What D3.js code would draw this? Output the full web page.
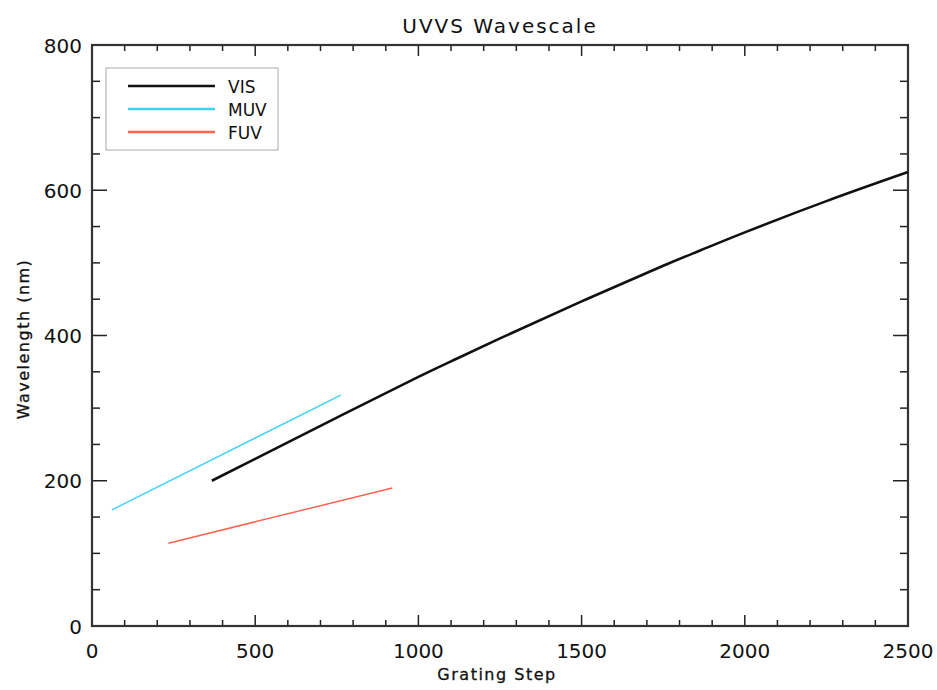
<!DOCTYPE html>
<html><head><meta charset="utf-8">
<script src="https://cdn.jsdelivr.net/npm/d3@7"></script>
<style>body{margin:0;background:#fff}svg{display:block}text{font-family:"DejaVu Sans",sans-serif;fill:#111}</style>
</head><body><svg id="c" width="937" height="690"></svg>
<script>
const visSteps = [367, 500, 750, 1000, 1117, 1250, 1500, 1750, 1863, 2000, 2250, 2500];
const visWave  = [200, 230, 287, 343, 368, 396, 447, 496, 517, 542, 585, 625];
const muvSteps = [61, 762];
const muvWave  = [160, 318];
const fuvSteps = [234, 920];
const fuvWave  = [114, 190];
const xTicks = [0, 500, 1000, 1500, 2000, 2500];
const yTicks = [0, 200, 400, 600, 800];
const seriesNames = ["VIS", "MUV", "FUV"];
const seriesColors = ["#111111", "#3fd3f7", "#ff6450"];

const svg = d3.select("#c");
const L = 92, R = 908, T = 45, B = 626;
const x = d3.scaleLinear().domain([0, 2500]).range([L, R]);
const y = d3.scaleLinear().domain([0, 800]).range([B, T]);

// ticks
const g = svg.append("g").attr("stroke", "#222").attr("stroke-width", 1.5);
const xMinor = d3.range(0, 2501, 100);
const yMinor = d3.range(0, 801, 50);
xMinor.forEach(v => {
  const len = v % 500 === 0 ? 11 : 6;
  g.append("line").attr("x1", x(v)).attr("x2", x(v)).attr("y1", B).attr("y2", B - len);
  g.append("line").attr("x1", x(v)).attr("x2", x(v)).attr("y1", T).attr("y2", T + len);
});
yMinor.forEach(v => {
  const len = v % 200 === 0 ? 15 : 8;
  g.append("line").attr("y1", y(v)).attr("y2", y(v)).attr("x1", L).attr("x2", L + len);
  g.append("line").attr("y1", y(v)).attr("y2", y(v)).attr("x1", R).attr("x2", R - len);
});
svg.append("rect").attr("x", L).attr("y", T).attr("width", R - L).attr("height", B - T)
  .attr("fill", "none").attr("stroke", "#333").attr("stroke-width", 2.2);

// tick labels
svg.append("g").selectAll("text").data(xTicks).join("text")
  .attr("x", d => x(d)).attr("y", 658).attr("text-anchor", "middle")
  .attr("font-size", 20).text(d => d);
svg.append("g").selectAll("text").data(yTicks).join("text")
  .attr("x", 82).attr("y", d => y(d) + 7.5).attr("text-anchor", "end")
  .attr("font-size", 20).text(d => d);

// titles
svg.append("text").attr("x", 500).attr("y", 33).attr("text-anchor", "middle")
  .attr("font-size", 20).attr("letter-spacing", 2).text("UVVS Wavescale");
svg.append("text").attr("x", 497).attr("y", 680).attr("text-anchor", "middle")
  .attr("font-size", 16).attr("letter-spacing", 1.5).attr("stroke", "#111").attr("stroke-width", 0.3)
  .text("Grating Step");
svg.append("text").attr("transform", "translate(29,339) rotate(-90)").attr("text-anchor", "middle")
  .attr("font-size", 16).attr("letter-spacing", 1.5).attr("stroke", "#111").attr("stroke-width", 0.3)
  .text("Wavelength (nm)");

// lines
const line = d3.line().x(d => x(d[0])).y(d => y(d[1])).curve(d3.curveNatural);
const data = [
  d3.zip(visSteps, visWave),
  d3.zip(muvSteps, muvWave),
  d3.zip(fuvSteps, fuvWave)
];
const widths = [2.6, 1.5, 1.5];
data.forEach((d, i) => {
  svg.append("path").datum(d).attr("d", line).attr("fill", "none")
    .attr("stroke", seriesColors[i]).attr("stroke-width", widths[i]);
});

// legend
svg.append("rect").attr("x", 106).attr("y", 68).attr("width", 172).attr("height", 82)
  .attr("fill", "#fff").attr("stroke", "#aaa").attr("stroke-width", 1);
seriesNames.forEach((n, i) => {
  const yy = 86 + i * 23;
  svg.append("line").attr("x1", 128).attr("x2", 215).attr("y1", yy).attr("y2", yy)
    .attr("stroke", seriesColors[i]).attr("stroke-width", 2.5);
  svg.append("text").attr("x", 228).attr("y", yy + 6.5).attr("font-size", 17).text(n);
});
</script></body></html>
